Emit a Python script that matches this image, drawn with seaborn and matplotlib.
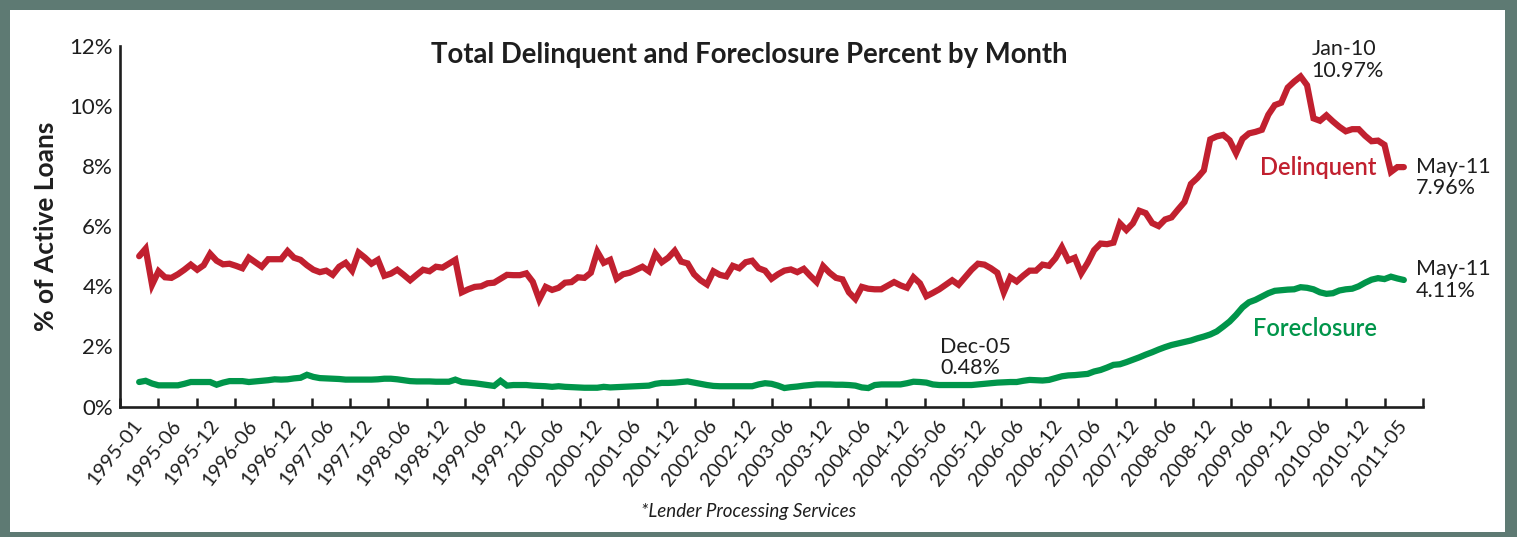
import numpy as np
import pandas as pd
import matplotlib
matplotlib.use("Agg")
import matplotlib.pyplot as plt
import seaborn as sns
from matplotlib.patches import Rectangle
from matplotlib.ticker import FixedLocator

# ---------------- data ----------------
months = pd.period_range("1995-01", "2011-05", freq="M").strftime("%Y-%m").tolist()

delinquent = [
    5.00, 5.25, 4.05, 4.50, 4.30, 4.28, 4.40, 4.55, 4.72, 4.55,
    4.70, 5.08, 4.85, 4.73, 4.75, 4.68, 4.60, 4.95, 4.80, 4.65,
    4.90, 4.90, 4.90, 5.17, 4.95, 4.88, 4.70, 4.55, 4.47, 4.52,
    4.38, 4.65, 4.78, 4.52, 5.12, 4.95, 4.75, 4.88, 4.35, 4.42,
    4.55, 4.38, 4.20, 4.38, 4.55, 4.50, 4.65, 4.62, 4.75, 4.88,
    3.80, 3.90, 3.98, 4.00, 4.10, 4.12, 4.25, 4.38, 4.37, 4.37,
    4.43, 4.15, 3.56, 3.98, 3.88, 3.95, 4.12, 4.14, 4.30, 4.28,
    4.45, 5.15, 4.78, 4.88, 4.25, 4.40, 4.45, 4.55, 4.65, 4.50,
    5.08, 4.80, 4.95, 5.18, 4.82, 4.76, 4.40, 4.20, 4.06, 4.50,
    4.38, 4.33, 4.68, 4.60, 4.80, 4.85, 4.60, 4.52, 4.25, 4.40,
    4.52, 4.56, 4.47, 4.58, 4.35, 4.14, 4.67, 4.45, 4.28, 4.23,
    3.80, 3.58, 3.98, 3.92, 3.90, 3.90, 4.02, 4.14, 4.03, 3.95,
    4.30, 4.10, 3.67, 3.78, 3.90, 4.05, 4.20, 4.05, 4.30, 4.55,
    4.75, 4.72, 4.60, 4.45, 3.80, 4.30, 4.16, 4.35, 4.52, 4.52,
    4.72, 4.68, 4.93, 5.30, 4.86, 4.95, 4.43, 4.78, 5.20, 5.42,
    5.40, 5.45, 6.09, 5.87, 6.09, 6.51, 6.43, 6.10, 6.00, 6.22,
    6.29, 6.55, 6.80, 7.40, 7.60, 7.85, 8.88, 8.98, 9.03, 8.85,
    8.42, 8.90, 9.08, 9.13, 9.20, 9.70, 10.02, 10.10, 10.60, 10.80,
    10.97, 10.68, 9.58, 9.50, 9.68, 9.48, 9.30, 9.15, 9.22, 9.22,
    9.00, 8.82, 8.84, 8.70, 7.80, 7.96, 7.96,
]

foreclosure = [
    0.82, 0.86, 0.77, 0.71, 0.71, 0.71, 0.71, 0.76, 0.82, 0.82,
    0.82, 0.82, 0.73, 0.80, 0.85, 0.85, 0.85, 0.82, 0.84, 0.86,
    0.88, 0.91, 0.90, 0.91, 0.94, 0.96, 1.06, 0.99, 0.95, 0.94,
    0.93, 0.92, 0.90, 0.90, 0.90, 0.90, 0.90, 0.91, 0.93, 0.93,
    0.91, 0.88, 0.85, 0.84, 0.84, 0.84, 0.83, 0.83, 0.83, 0.90,
    0.82, 0.80, 0.78, 0.75, 0.72, 0.69, 0.86, 0.70, 0.72, 0.72,
    0.72, 0.70, 0.69, 0.68, 0.66, 0.68, 0.66, 0.65, 0.64, 0.63,
    0.63, 0.63, 0.66, 0.64, 0.65, 0.66, 0.67, 0.68, 0.69, 0.70,
    0.76, 0.79, 0.79, 0.80, 0.82, 0.84, 0.80, 0.76, 0.72, 0.69,
    0.68, 0.68, 0.68, 0.68, 0.68, 0.68, 0.74, 0.78, 0.76, 0.70,
    0.62, 0.65, 0.67, 0.70, 0.72, 0.74, 0.74, 0.74, 0.73, 0.73,
    0.72, 0.70, 0.64, 0.62, 0.72, 0.74, 0.74, 0.74, 0.74, 0.78,
    0.83, 0.82, 0.80, 0.74, 0.72, 0.72, 0.72, 0.72, 0.72, 0.72,
    0.74, 0.76, 0.78, 0.80, 0.81, 0.82, 0.82, 0.86, 0.89, 0.88,
    0.87, 0.89, 0.95, 1.01, 1.04, 1.05, 1.07, 1.09, 1.17, 1.22,
    1.30, 1.39, 1.41, 1.48, 1.56, 1.64, 1.73, 1.81, 1.90, 1.98,
    2.05, 2.10, 2.15, 2.20, 2.27, 2.33, 2.40, 2.50, 2.66, 2.83,
    3.05, 3.30, 3.47, 3.55, 3.66, 3.77, 3.85, 3.87, 3.89, 3.90,
    3.97, 3.95, 3.90, 3.80, 3.75, 3.77, 3.86, 3.90, 3.92, 4.00,
    4.12, 4.22, 4.27, 4.24, 4.32, 4.26, 4.21,
]

tick_labels = [
    "1995-01", "1995-06", "1995-12", "1996-06", "1996-12", "1997-06",
    "1997-12", "1998-06", "1998-12", "1999-06", "1999-12", "2000-06",
    "2000-12", "2001-06", "2001-12", "2002-06", "2002-12", "2003-06",
    "2003-12", "2004-06", "2004-12", "2005-06", "2005-12", "2006-06",
    "2006-12", "2007-06", "2007-12", "2008-06", "2008-12", "2009-06",
    "2009-12", "2010-06", "2010-12", "2011-05",
]
y_ticks = [0, 2, 4, 6, 8, 10, 12]
y_tick_labels = ["0%", "2%", "4%", "6%", "8%", "10%", "12%"]

series_names = ["Delinquent", "Foreclosure"]
series_colors = ["#C1202F", "#00954A"]

callout_texts = ["Jan-10\n10.97%", "May-11\n7.96%", "May-11\n4.11%", "Dec-05\n0.48%"]

assert len(delinquent) == len(months) == len(foreclosure)

n = len(months)
idx = np.arange(n)
df = pd.concat([
    pd.DataFrame({"month": idx, "value": delinquent, "series": "Delinquent"}),
    pd.DataFrame({"month": idx, "value": foreclosure, "series": "Foreclosure"}),
], ignore_index=True)

# ---------------- style ----------------
sns.set_theme(style="white")
plt.rcParams["font.family"] = ["Lato", "DejaVu Sans"]
plt.rcParams["lines.solid_joinstyle"] = "miter"

BORDER = "#5E7A73"
TXT = "#1E1E1E"
W, H = 1517, 537
fig = plt.figure(figsize=(W / 100, H / 100), dpi=100, facecolor=BORDER)
fig.patches.append(Rectangle((10 / W, 5 / H), 1495 / W, 522 / H,
                             transform=fig.transFigure, facecolor="white",
                             edgecolor="none", zorder=-10))

ax = fig.add_axes([120 / W, (H - 406.7) / H, 1303 / W, 361.2 / H])
ax.set_zorder(2)
ax.patch.set_alpha(0)

sns.lineplot(data=df, x="month", y="value", hue="series",
             palette=dict(zip(series_names, series_colors)),
             linewidth=4.5, legend=False, ax=ax, estimator=None, sort=True)

# axes limits / ticks
step = (n - 1) / (len(tick_labels) - 1)
ax.set_xlim(-0.5 * step, (n - 1) + 0.5 * step)
ax.set_ylim(0, 12)

ax.set_xticks(np.arange(len(tick_labels)) * step)
ax.set_xticklabels(tick_labels, rotation=52, ha="right", va="center",
                   rotation_mode="anchor", fontsize=14.5, color=TXT)
ax.xaxis.set_minor_locator(FixedLocator((np.arange(len(tick_labels) + 1) - 0.5) * step))
ax.tick_params(axis="x", which="major", length=0, pad=11)
ax.tick_params(axis="x", which="minor", direction="in", length=6.5, width=1.8,
               color=TXT, bottom=True)

ax.set_yticks(y_ticks)
ax.set_yticklabels(y_tick_labels, fontsize=16, color=TXT)
ax.tick_params(axis="y", direction="in", length=13, width=1.8, color=TXT, pad=5)

for s in ["top", "right"]:
    ax.spines[s].set_visible(False)
for s in ["left", "bottom"]:
    ax.spines[s].set_linewidth(1.9)
    ax.spines[s].set_color(TXT)

ax.set_xlabel("")
ax.set_ylabel("% of Active Loans", fontsize=19, fontweight="bold",
              color=TXT, labelpad=8)

fig.text(749 / W, 1 - 55 / H, "Total Delinquent and Foreclosure Percent by Month",
         ha="center", va="center", fontsize=19.8, fontweight="bold", color=TXT)
fig.text(749 / W, 1 - 511 / H, "*Lender Processing Services", ha="center",
         va="center", fontsize=13.5, style="italic", color=TXT)

ax.text(173.7, 7.96, series_names[0], color=series_colors[0], fontsize=17,
        fontweight="semibold", ha="left", va="center")
ax.text(172.7, 2.61, series_names[1], color=series_colors[1], fontsize=17,
        fontweight="semibold", ha="left", va="center")

callout_pos = [(181.7, 12.2), (197.9, 8.3), (197.9, 4.9), (124.1, 2.33)]
for txt, (xx, yy) in zip(callout_texts, callout_pos):
    ax.text(xx, yy, txt, fontsize=15.5, color=TXT, ha="left", va="top",
            linespacing=1.1, clip_on=False)

fig.savefig("out.png", dpi=100, facecolor=BORDER)
